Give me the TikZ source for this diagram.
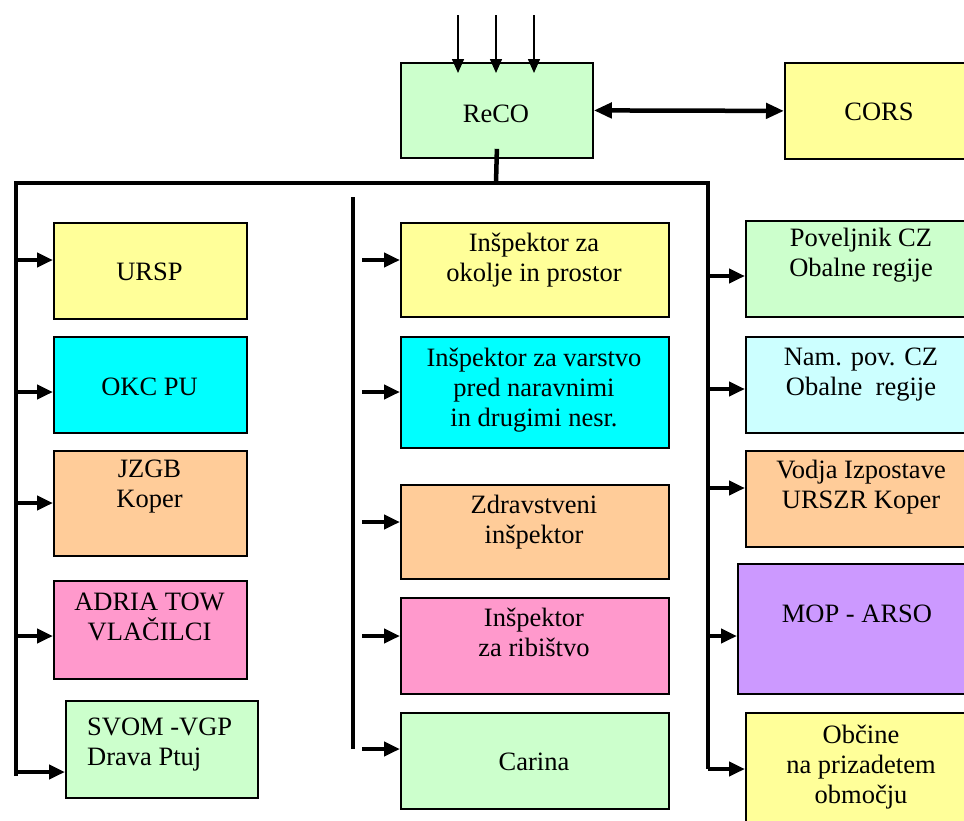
\documentclass[tikz,border=0pt]{standalone}
\usepackage{fontspec}
\setmainfont{Liberation Serif}
\usepackage{tikz}
\usetikzlibrary{arrows.meta}
\definecolor{cgreen}{HTML}{CCFFCC}
\definecolor{cyellow}{HTML}{FFFF99}
\definecolor{ccyan}{HTML}{00FFFF}
\definecolor{clcyan}{HTML}{CCFFFF}
\definecolor{cpeach}{HTML}{FFCC99}
\definecolor{cpink}{HTML}{FF99CC}
\definecolor{cviolet}{HTML}{CC99FF}

\begin{document}
\begin{tikzpicture}[x=1pt,y=-1pt,
  box/.style={draw,rectangle,line width=1.8pt,anchor=north west,inner sep=0pt},
  txt/.style={anchor=north,inner sep=0pt,align=center,font=\fontsize{26.5}{30}\selectfont},
  bus/.style={line width=4.5pt,line join=miter},
  feed/.style={line width=4.5pt,-{Triangle[length=16pt,width=14pt]}},
  inflow/.style={line width=1.5pt,-{Triangle[length=14pt,width=12pt]}},
  link/.style={line width=4.5pt,{Triangle[length=18pt,width=15pt]}-{Triangle[length=18pt,width=15pt]}}]
\clip (0,0) rectangle (964,820);

%top
\node [box,fill=cgreen,minimum width=192pt,minimum height=95pt] (reco) at(400,62){};
\node [box,fill=cyellow,minimum width=190pt,minimum height=96pt] (cors) at(784,62){};
\node [txt] (recot) at(496,105){ReCO};
\node [txt] (corst) at(879,103){CORS};

%left column
\node [box,fill=cyellow,minimum width=193pt,minimum height=96pt] (ursp) at(53,222){};
\node [box,fill=ccyan,minimum width=193pt,minimum height=96pt] (okc) at(53,336){};
\node [box,fill=cpeach,minimum width=193pt,minimum height=105pt] (jzgb) at(53,450){};
\node [box,fill=cpink,minimum width=193pt,minimum height=98pt] (adria) at(53,580){};
\node [box,fill=cgreen,minimum width=192pt,minimum height=97pt] (svom) at(65,700){};
\node [txt] (urspt) at(149.5,263){URSP};
\node [txt] (okct) at(149.5,378){OKC PU};
\node [txt] (jzgbt) at(149.5,460){JZGB\\Koper};
\node [txt] (adriat) at(149.5,593){ADRIA TOW\\VLAČILCI};
\node [txt,anchor=north west,align=left] (svomt) at(87,718){SVOM -VGP\\Drava Ptuj};

%middle column
\node [box,fill=cyellow,minimum width=268pt,minimum height=94pt] (iop) at(400,222){};
\node [box,fill=ccyan,minimum width=268pt,minimum height=111pt] (ivn) at(400,336){};
\node [box,fill=cpeach,minimum width=268pt,minimum height=94pt] (izd) at(400,484){};
\node [box,fill=cpink,minimum width=268pt,minimum height=96pt] (irib) at(400,597){};
\node [box,fill=cgreen,minimum width=268pt,minimum height=96pt] (carina) at(400,712){};
\node [txt] (iopt) at(534,233){Inšpektor za\\okolje in prostor};
\node [txt] (ivnt) at(534,348){Inšpektor za varstvo\\pred naravnimi\\in drugimi nesr.};
\node [txt] (izdt) at(534,495){Zdravstveni\\inšpektor};
\node [txt] (iribt) at(534,608){Inšpektor\\za ribištvo};
\node [txt] (carinat) at(534,753){Carina};

%right column
\node [box,fill=cgreen,minimum width=232pt,minimum height=96pt] (pov) at(745,220){};
\node [box,fill=clcyan,minimum width=232pt,minimum height=96pt] (nam) at(745,336){};
\node [box,fill=cpeach,minimum width=232pt,minimum height=96pt] (vodja) at(745,450){};
\node [box,fill=cviolet,minimum width=240pt,minimum height=130pt] (mop) at(737,563){};
\node [box,fill=cyellow,minimum width=232pt,minimum height=120pt] (obcine) at(745,712){};
\node [txt] (povt) at(861,228){Poveljnik CZ\\Obalne regije};
\node [txt] (namt) at(861,348){Nam. pov. CZ\\Obalne~~regije};
\node [txt] (vodjat) at(861,460){Vodja Izpostave\\URSZR Koper};
\node [txt] (mopt) at(857,605){MOP - ARSO};
\node [txt] (obcinet) at(861,725){Občine\\na prizadetem\\območju};

%bus lines
\coordinate (in1) at(458,15);
\coordinate (in2) at(496,15);
\coordinate (in3) at(534,15);
\coordinate (j) at(496,183);
\coordinate (bl) at(16,183);
\coordinate (br) at(708,183);
\coordinate (lend) at(16,776);
\coordinate (rend) at(708,769);
\coordinate (mtop) at(353,197);
\coordinate (mbot) at(353,749);

\foreach \c in {in1,in2,in3}
  \draw[inflow,shorten >=-11pt](\c) -- (\c |- reco.north);
\draw[link](reco.east) -- (cors.west);
\draw[bus]([yshift=10pt]reco.south) -- (j);
\draw[bus](lend) -- (bl) -- (br) -- (rend);
\draw[bus](mtop) -- (mbot);

\foreach \n/\y in {ursp/260,okc/392,jzgb/503,adria/636,svom/772}
  \draw[feed](bl |- 0,\y) -- (\n.west |- 0,\y);
\foreach \n/\y in {iop/260,ivn/392,izd/522,irib/636,carina/749}
  \draw[feed]([xshift=9pt]mtop |- 0,\y) -- (\n.west |- 0,\y);
\foreach \n/\y in {pov/276,nam/389,vodja/488,mop/636,obcine/769}
  \draw[feed](br |- 0,\y) -- (\n.west |- 0,\y);

\end{tikzpicture}
\end{document}
